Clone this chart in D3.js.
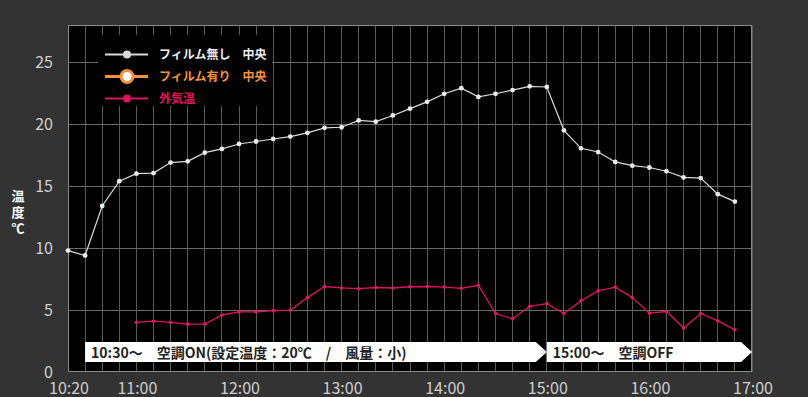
<!DOCTYPE html>
<html><head><meta charset="utf-8">
<script src="https://cdn.jsdelivr.net/npm/d3@7"></script>
<style>
html,body{margin:0;padding:0;background:#333333;}
svg{display:block;}
</style></head>
<body>
<svg id="c" width="808" height="397"></svg>
<script>
const times = ["10:20","10:30","10:40","10:50","11:00","11:10","11:20","11:30","11:40","11:50",
"12:00","12:10","12:20","12:30","12:40","12:50","13:00","13:10","13:20","13:30","13:40","13:50",
"14:00","14:10","14:20","14:30","14:40","14:50","15:00","15:10","15:20","15:30","15:40","15:50",
"16:00","16:10","16:20","16:30","16:40","16:50"];
const noFilm = [9.8,9.4,13.4,15.4,16.0,16.05,16.9,17.0,17.7,18.0,
18.4,18.6,18.8,19.0,19.3,19.7,19.75,20.3,20.2,20.7,21.25,21.8,
22.45,22.9,22.2,22.45,22.75,23.05,23.0,19.5,18.05,17.75,16.95,16.65,
16.5,16.2,15.7,15.65,14.35,13.75];
const withFilm = [];
const outside = [null,null,null,null,4.0,4.1,4.0,3.86,3.86,4.6,
4.85,4.85,4.95,5.0,6.0,6.9,6.78,6.72,6.82,6.78,6.88,6.9,
6.85,6.75,7.0,4.72,4.3,5.3,5.52,4.72,5.75,6.55,6.85,6.0,
4.75,4.88,3.55,4.72,4.12,3.4];
const yTicks = [0,5,10,15,20,25];
const xTickLabels = ["10:20","11:00","12:00","13:00","14:00","15:00","16:00","17:00"];
const seriesNames = ["フィルム無し　中央","フィルム有り　中央","外気温"];
const bannerTexts = ["10:30～　空調ON(設定温度：20℃　/　風量：小)","15:00～　空調OFF"];
const bannerStarts = ["10:30","15:00"];
const bannerEnds = ["15:00","17:00"];

const parse = d3.timeParse("%H:%M");
const svg = d3.select("#c");
const L=68,R=752,T=25,B=372;
const x = d3.scaleTime().domain([parse("10:20"),parse("17:00")]).range([L,R]);
const y = d3.scaleLinear().domain([0,28]).range([B,T]);
const font = "'Noto Sans CJK JP','Noto Sans',sans-serif";

svg.append("rect").attr("x",L).attr("y",T).attr("width",R-L).attr("height",B-T).attr("fill","#000");

// vertical grid every 10 minutes
const vt = d3.timeMinute.every(10).range(parse("10:20"),parse("17:01"));
svg.append("g").selectAll("line").data(vt).join("line")
  .attr("x1",d=>x(d)).attr("x2",d=>x(d)).attr("y1",T).attr("y2",B)
  .attr("stroke","#5a5a5a").attr("stroke-width",1).attr("shape-rendering","crispEdges");
svg.append("g").selectAll("line").data(yTicks.filter(v=>v>0)).join("line")
  .attr("x1",L).attr("x2",R).attr("y1",d=>y(d)).attr("y2",d=>y(d))
  .attr("stroke","#6a6a6a").attr("stroke-width",1).attr("shape-rendering","crispEdges");
svg.append("rect").attr("x",L+0.5).attr("y",T+0.5).attr("width",R-L-1).attr("height",B-T-1)
  .attr("fill","none").attr("stroke","#8a8a8a").attr("stroke-width",1);

// y tick labels
svg.append("g").selectAll("text").data(yTicks).join("text")
  .attr("x",53).attr("y",d=>y(d)).attr("dy","0.35em").attr("text-anchor","end")
  .attr("fill","#cfcfcf").attr("font-family",font).attr("font-size",16).text(d=>d);
// x tick labels
svg.append("g").selectAll("text").data(xTickLabels).join("text")
  .attr("x",d=>x(parse(d))+1).attr("y",394).attr("text-anchor","middle")
  .attr("fill","#cfcfcf").attr("font-family",font).attr("font-size",16).text(d=>d);

// y title
const yt = svg.append("text").attr("fill","#fff").attr("font-family",font).attr("font-weight","bold").attr("font-size",13).attr("text-anchor","middle");
["温","度","℃"].forEach((c,i)=>yt.append("tspan").attr("x",18).attr("y",201+i*16).text(c));

// banners
bannerTexts.forEach((t,i)=>{
  const x0=x(parse(bannerStarts[i])), x1=x(parse(bannerEnds[i]));
  const y0=342,h=20,ah=11;
  svg.append("path").attr("d",`M${x0},${y0}H${x1-ah}L${x1},${y0+h/2}L${x1-ah},${y0+h}H${x0}Z`).attr("fill","#fff");
  svg.append("text").attr("x",x0+6).attr("y",y0+15.5).attr("fill","#222").attr("font-family",font)
    .attr("font-weight","bold").attr("font-size",14).text(t);
});

// series
const pts = (arr)=>times.map((t,i)=>({t:parse(t),v:arr[i]})).filter(d=>d.v!=null);
const line = d3.line().x(d=>x(d.t)).y(d=>y(d.v));
const nf = pts(noFilm), od = pts(outside);
svg.append("path").datum(od).attr("d",line).attr("fill","none").attr("stroke","#d81660").attr("stroke-width",1.3);
svg.append("g").selectAll("circle").data(od).join("circle").attr("cx",d=>x(d.t)).attr("cy",d=>y(d.v)).attr("r",1.8).attr("fill","#e0185f");
svg.append("path").datum(nf).attr("d",line).attr("fill","none").attr("stroke","#d8dcdc").attr("stroke-width",1.2);
svg.append("g").selectAll("circle").data(nf).join("circle").attr("cx",d=>x(d.t)).attr("cy",d=>y(d.v)).attr("r",2.4).attr("fill","#e6ecec");
svg.append("path").datum(pts(withFilm)).attr("d",line).attr("fill","none").attr("stroke","#f7923a").attr("stroke-width",2);

// legend
svg.append("rect").attr("x",98).attr("y",35).attr("width",174).attr("height",71).attr("fill","#000");
const lc = ["#d8dcdc","#f7923a","#d81660"], tc=["#eeeeee","#f7923a","#e0145a"];
seriesNames.forEach((n,i)=>{
  const ly=54.5+i*22;
  const g=svg.append("g");
  g.append("line").attr("x1",105).attr("x2",148).attr("y1",ly).attr("y2",ly).attr("stroke",lc[i]).attr("stroke-width",i==1?3:2);
  if(i==1) g.append("circle").attr("cx",127).attr("cy",ly).attr("r",6).attr("fill","#fff").attr("stroke",lc[i]).attr("stroke-width",3);
  else g.append("circle").attr("cx",127).attr("cy",ly).attr("r",4).attr("fill",lc[i]);
  g.append("text").attr("x",159).attr("y",ly).attr("dy","0.36em").attr("fill",tc[i]).attr("font-family",font)
   .attr("font-weight","bold").attr("font-size",12).attr("xml:space","preserve").text(n);
});
</script>
</body></html>
